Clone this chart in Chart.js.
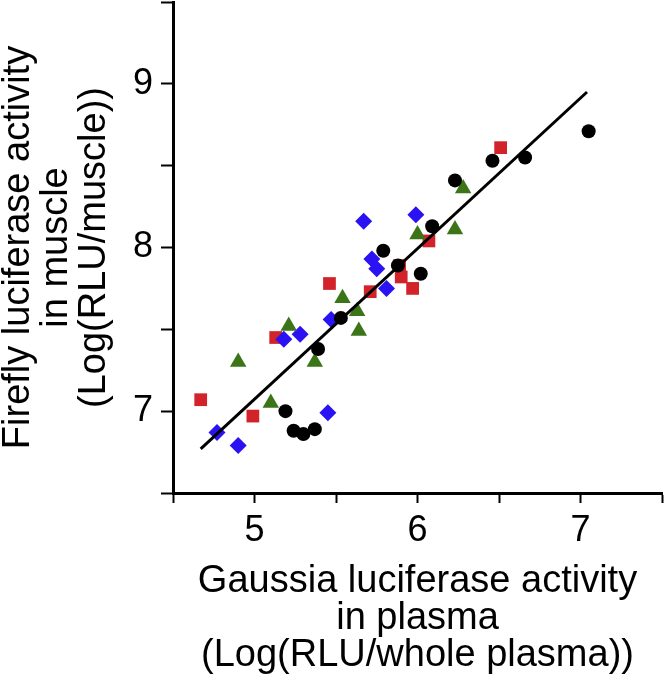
<!DOCTYPE html>
<html>
<head>
<meta charset="utf-8">
<script src="https://cdn.jsdelivr.net/npm/chart.js@4"></script>
<style>
  html, body { margin: 0; padding: 0; background: #fff; }
  #wrap { width: 666px; height: 674px; }
</style>
</head>
<body>
<div id="wrap"><canvas id="myChart" width="666" height="674"></canvas></div>
<script>
// Log(RLU/whole plasma) vs Log(RLU/muscle), one group per marker
const blackX = [5.19, 5.24, 5.30, 5.37, 5.39, 5.53, 5.79, 5.88, 6.02, 6.09, 6.23, 6.46, 6.66, 7.05]
const blackY = [7.00, 6.88, 6.86, 6.89, 7.38, 7.57, 7.98, 7.89, 7.84, 8.13, 8.41, 8.53, 8.55, 8.71]

const redX = [4.67, 4.99, 5.13, 5.46, 5.71, 5.89, 5.90, 5.97, 6.07, 6.51]
const redY = [7.07, 6.97, 7.45, 7.78, 7.73, 7.89, 7.82, 7.75, 8.04, 8.61]

const greenX = [4.90, 5.10, 5.21, 5.37, 5.54, 5.63, 5.64, 6.00, 6.23, 6.28]
const greenY = [7.30, 7.05, 7.52, 7.30, 7.69, 7.61, 7.49, 8.08, 8.11, 8.36]

const blueX = [4.77, 4.90, 5.18, 5.28, 5.45, 5.47, 5.67, 5.72, 5.75, 5.81, 5.99]
const blueY = [6.87, 6.79, 7.44, 7.47, 6.99, 7.56, 8.16, 7.93, 7.87, 7.75, 8.20]

// fitted line, two ends
const fitX = [4.67, 7.04]
const fitY = [6.77, 8.95]

const xTicks = [5, 6, 7]
const yTicks = [7, 8, 9]

const pts = (xs, ys) => xs.map((x, i) => ({ x: x, y: ys[i] }))

const ctx = document.getElementById('myChart')

new Chart(ctx, {
  type: 'scatter',
  data: {
    datasets: [
      {
        type: 'line',
        data: pts(fitX, fitY),
        borderColor: '#000',
        borderWidth: 3,
        pointRadius: 0,
        fill: false
      },
      {
        data: pts(blackX, blackY),
        pointStyle: 'circle',
        pointRadius: 7,
        backgroundColor: '#000',
        borderWidth: 0
      },
      {
        data: pts(greenX, greenY),
        pointStyle: 'triangle',
        pointRadius: 9.5,
        backgroundColor: '#3b7517',
        borderWidth: 0
      },
      {
        data: pts(blueX, blueY),
        pointStyle: 'rectRot',
        pointRadius: 8.5,
        backgroundColor: '#2b12f2',
        borderWidth: 0
      },
      {
        data: pts(redX, redY),
        pointStyle: 'rect',
        pointRadius: 9,
        backgroundColor: '#d2232a',
        borderWidth: 0
      }
    ]
  },
  options: {
    responsive: false,
    animation: false,
    layout: { autoPadding: false, padding: { top: 2, right: 4 } },
    plugins: {
      legend: { display: false },
      tooltip: { enabled: false }
    },
    scales: {
      x: {
        type: 'linear',
        min: 4.5,
        max: 7.5,
        afterFit: (s) => { s.height = 181; s.paddingLeft = 0; s.paddingRight = 0 },
        border: { color: '#000', width: 3 },
        grid: { drawOnChartArea: false, drawTicks: true, tickLength: 10, tickWidth: 2, tickColor: '#000' },
        ticks: {
          stepSize: 0.5,
          color: '#000',
          padding: 6,
          font: { family: 'Liberation Sans', size: 36 },
          callback: (v) => xTicks.includes(v) ? String(v) : ''
        },
        title: {
          display: true,
          text: ['Gaussia luciferase activity', 'in plasma', '(Log(RLU/whole plasma))'],
          color: '#000',
          font: { family: 'Liberation Sans', size: 38, lineHeight: 0.97 },
          padding: { top: 0, bottom: 0 }
        }
      },
      y: {
        type: 'linear',
        min: 6.5,
        max: 9.5,
        afterFit: (s) => { s.width = 173; s.paddingTop = 0; s.paddingBottom = 0 },
        border: { color: '#000', width: 3 },
        grid: { drawOnChartArea: false, drawTicks: true, tickLength: 12, tickWidth: 2, tickColor: '#000' },
        ticks: {
          stepSize: 0.5,
          color: '#000',
          padding: 8,
          font: { family: 'Liberation Sans', size: 36 },
          callback: (v) => yTicks.includes(v) ? String(v) : ''
        },
        title: {
          display: true,
          text: ['Firefly luciferase activity', 'in muscle', '(Log(RLU/muscle))'],
          color: '#000',
          font: { family: 'Liberation Sans', size: 38, lineHeight: 1.0 },
          padding: { top: 0, bottom: 0 }
        }
      }
    }
  }
})
</script>
</body>
</html>
